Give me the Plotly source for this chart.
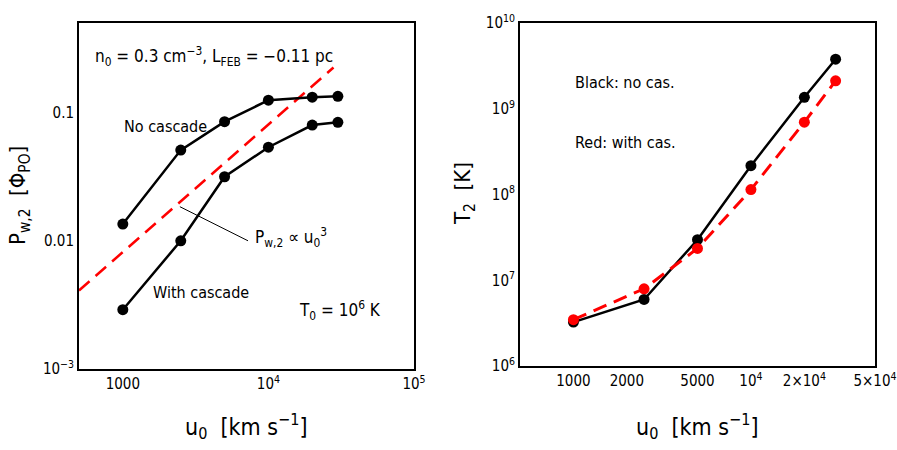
import math
import plotly.graph_objects as go

# ---------------- data ----------------
u0_left = [1000, 2500, 5000, 10000, 20000, 30000]
pw_nocas = [0.0135, 0.051, 0.085, 0.125, 0.132, 0.134]
pw_cas = [0.0029, 0.0100, 0.0316, 0.0537, 0.080, 0.084]
powerlaw_u = [500, 28000]
powerlaw_p = [0.0041, 0.225]
pointer_u = [2466, 7244]
pointer_p = [0.01845, 0.0100]

u0_right = [1000, 2500, 5000, 10000, 20000, 30000]
T2_nocas = [3.25e6, 5.97e6, 2.97e7, 2.17e8, 1.36e9, 3.78e9]
T2_cas = [3.47e6, 7.95e6, 2.35e7, 1.14e8, 6.98e8, 2.12e9]

left_xticks = [1000, 1e4, 1e5]
left_xlabels = ["1000", "10<sup>4</sup>", "10<sup>5</sup>"]
left_yticks = [1e-3, 1e-2, 1e-1]
left_ylabels = ["10<sup>−3</sup>", "0.01", "0.1"]
right_xticks = [1000, 2000, 5000, 1e4, 2e4, 5e4]
right_xlabels = ["1000", "2000", "5000", "10<sup>4</sup>", "2×10<sup>4</sup>", "5×10<sup>4</sup>"]
right_yticks = [1e6, 1e7, 1e8, 1e9, 1e10]
right_ylabels = ["10<sup>6</sup>", "10<sup>7</sup>", "10<sup>8</sup>", "10<sup>9</sup>", "10<sup>10</sup>"]

FONT = "Liberation Sans Narrow, DejaVu Sans Condensed, Arial Narrow, sans-serif"
W, H = 897, 450

LR = [2.699, 5.0]
LYR = [-3.0, -0.301]
RR = [2.699, 4.699]
RYR = [6.0, 10.0]


def in_range(vals, rng):
    return [v for v in vals if rng[0] - 1e-6 <= math.log10(v) <= rng[1] + 1e-6]


def minors(decades, mults, rng):
    return in_range([m * 10 ** d for d in decades for m in mults], rng)


MULTS = [2, 3, 4, 5, 6, 7, 8, 9]
left_x_long = [1000, 1e4, 1e5]
left_x_short = minors([2, 3, 4], MULTS, LR)
left_y_long = [1e-3, 1e-2, 1e-1]
left_y_short = minors([-3, -2, -1], MULTS, LYR)
right_x_long = [1000, 1e4]
right_x_short = in_range([600, 700, 800, 900, 2000, 3000, 4000, 5000, 6000, 7000, 8000,
                          9000, 20000, 30000, 40000, 50000], RR)
right_y_long = [1e6, 1e7, 1e8, 1e9, 1e10]
right_y_short = minors([6, 7, 8, 9], MULTS, RYR)

fig = go.Figure()

# left panel
fig.add_trace(go.Scatter(x=powerlaw_u, y=powerlaw_p, mode="lines",
                         line=dict(color="#ff0000", width=2.5, dash="14px,8px"),
                         xaxis="x", yaxis="y", showlegend=False))
fig.add_trace(go.Scatter(x=u0_left, y=pw_nocas, mode="lines+markers",
                         line=dict(color="black", width=2.5),
                         marker=dict(color="black", size=11),
                         xaxis="x", yaxis="y", showlegend=False))
fig.add_trace(go.Scatter(x=u0_left, y=pw_cas, mode="lines+markers",
                         line=dict(color="black", width=2.5),
                         marker=dict(color="black", size=11),
                         xaxis="x", yaxis="y", showlegend=False))
fig.add_trace(go.Scatter(x=pointer_u, y=pointer_p, mode="lines",
                         line=dict(color="black", width=1),
                         xaxis="x", yaxis="y", showlegend=False))

# right panel
fig.add_trace(go.Scatter(x=u0_right, y=T2_nocas, mode="lines+markers",
                         line=dict(color="black", width=2.5),
                         marker=dict(color="black", size=11),
                         xaxis="x2", yaxis="y2", showlegend=False))
fig.add_trace(go.Scatter(x=u0_right, y=T2_cas, mode="lines+markers",
                         line=dict(color="#ff0000", width=3, dash="14px,8px"),
                         marker=dict(color="#ff0000", size=11),
                         xaxis="x2", yaxis="y2", showlegend=False))

lx0, lx1 = 79 / W, 414 / W
ly0, ly1 = 1 - 369 / H, 1 - 23 / H
rx0, rx1 = 520 / W, 875 / W
ry0, ry1 = 1 - 366 / H, 1 - 23 / H
LPW, LPH = 335.0, 346.0
RPW, RPH = 355.0, 343.0


def main_axis(domain, anchor, rng, tv, tt):
    return dict(type="log", showgrid=False, zeroline=False, showline=True,
                linecolor="black", linewidth=2, mirror=True, automargin=False,
                ticks="", tickvals=tv, ticktext=tt,
                tickfont=dict(family=FONT, size=15, color="black"),
                domain=domain, anchor=anchor, range=rng)


fig.update_layout(
    width=W, height=H, margin=dict(l=0, r=0, t=0, b=0, autoexpand=False),
    paper_bgcolor="white", plot_bgcolor="white",
    font=dict(family=FONT, color="black"),
    xaxis=main_axis([lx0, lx1], "y", LR, left_xticks, left_xlabels),
    yaxis=main_axis([ly0, ly1], "x", LYR, left_yticks, left_ylabels),
    xaxis2=main_axis([rx0, rx1], "y2", RR, right_xticks, right_xlabels),
    yaxis2=main_axis([ry0, ry1], "x2", RYR, right_yticks, right_ylabels),
)

# inward tick marks on all four sides, placed through the axes' own log scale
TICK = dict(color="black", width=2)


def x_ticks(xref, yname, vals, length, plot_h):
    f = length / plot_h
    for v in vals:
        lv = math.log10(v)
        for y0, y1 in [(0.0, f), (1.0, 1.0 - f)]:
            fig.add_shape(type="line", xref=xref, yref=yname + " domain",
                          x0=lv, x1=lv, y0=y0, y1=y1, line=TICK, layer="above")


def y_ticks(yref, xname, vals, length, plot_w):
    f = length / plot_w
    for v in vals:
        lv = math.log10(v)
        for x0, x1 in [(0.0, f), (1.0, 1.0 - f)]:
            fig.add_shape(type="line", xref=xname + " domain", yref=yref,
                          x0=x0, x1=x1, y0=lv, y1=lv, line=TICK, layer="above")


x_ticks("x", "y", left_x_long, 14, LPH)
x_ticks("x", "y", left_x_short, 7, LPH)
y_ticks("y", "x", left_y_long, 9, LPW)
y_ticks("y", "x", left_y_short, 5, LPW)
x_ticks("x2", "y2", right_x_long, 15, RPH)
x_ticks("x2", "y2", right_x_short, 7, RPH)
y_ticks("y2", "x2", right_y_long, 9, RPW)
y_ticks("y2", "x2", right_y_short, 5, RPW)


def ann(text, x, y, size=16, xanchor="left", yanchor="middle", angle=0):
    fig.add_annotation(text=text, x=x / W, y=1 - y / H, xref="paper", yref="paper",
                       showarrow=False, xanchor=xanchor, yanchor=yanchor,
                       textangle=angle, font=dict(family=FONT, size=size, color="black"))


ann("n<sub>0</sub> = 0.3 cm<sup>−3</sup>, L<sub>FEB</sub> = −0.11 pc", 93, 56, size=17)
ann("No cascade", 122, 126, size=16)
ann("With cascade", 151, 292, size=16)
ann("P<sub>w,2</sub> ∝ u<sub>0</sub><sup>3</sup>", 253, 238, size=17)
ann("T<sub>0</sub> = 10<sup>6</sup> K", 297, 310, size=17)
ann("P<sub>w,2</sub>  [Φ<sub>PO</sub>]", 20, 196, size=22, xanchor="center", angle=-90)
ann("u<sub>0</sub>  [km s<sup>−1</sup>]", 246, 426, size=23, xanchor="center")

ann("Black: no cas.", 573, 82, size=16)
ann("Red: with cas.", 573, 143, size=16)
ann("T<sub>2</sub>  [K]", 464, 194, size=22, xanchor="center", angle=-90)
ann("u<sub>0</sub>  [km s<sup>−1</sup>]", 697, 426, size=23, xanchor="center")

fig.write_html("out.html")
